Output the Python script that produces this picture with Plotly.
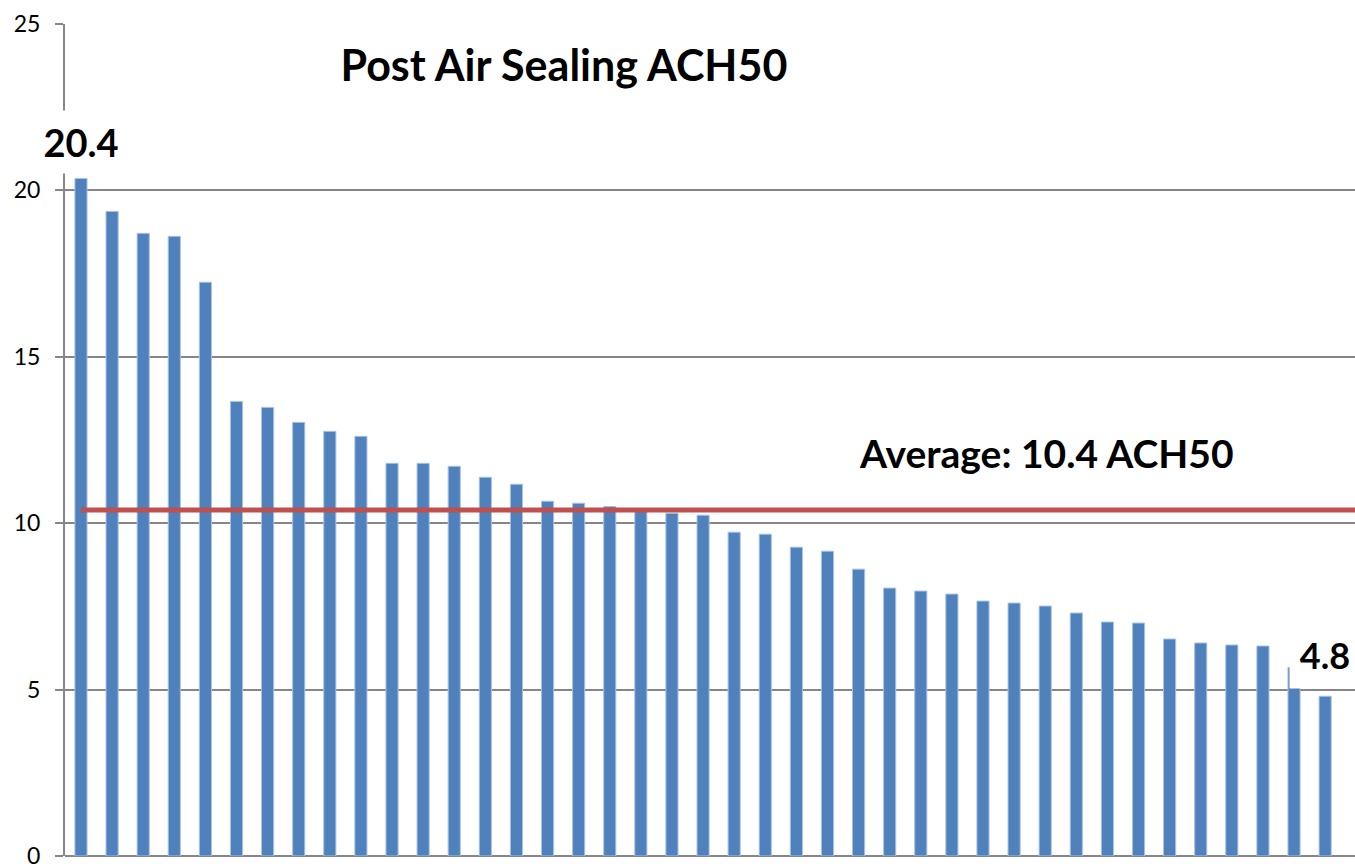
import plotly.graph_objects as go

# ── values (ACH50 per home, sorted high to low) ─────────────────────────────
homes = list(range(41))
ach50 = [
    20.36, 19.37, 18.71, 18.62, 17.24, 13.66, 13.48, 13.03, 12.76, 12.61,
    11.80, 11.80, 11.71, 11.38, 11.17, 10.66, 10.60, 10.50, 10.40, 10.30,
    10.24, 9.73, 9.67, 9.28, 9.16, 8.62, 8.05, 7.96, 7.87, 7.66,
    7.60, 7.51, 7.30, 7.03, 7.00, 6.52, 6.40, 6.34, 6.31, 5.67,
    4.80,
]
average = 10.4
avg_x = [0, 42]
avg_y = [average, average]

y_ticks = [0, 5, 10, 15, 20, 25]

BAR_BLUE = "#4F81BD"
AVG_RED = "#C0504D"
GRID = "#868686"
FONT = "Lato, 'Open Sans', sans-serif"

fig = go.Figure()

fig.add_trace(go.Bar(
    x=homes,
    y=ach50,
    marker=dict(color=BAR_BLUE, line=dict(color="#A9C2E0", width=1)),
    width=0.39,
    hoverinfo="y",
))

fig.add_trace(go.Scatter(
    x=avg_x,
    y=avg_y,
    mode="lines",
    line=dict(color=AVG_RED, width=5),
    hoverinfo="skip",
))

# labels (white boxes cover what's behind them, as in the original)
fig.add_annotation(
    x=homes[0], y=21.45, text="<b>20.4</b>", showarrow=False,
    font=dict(family=FONT, size=38, color="black"),
    bgcolor="white", width=84, height=62, borderpad=0,
    xanchor="center", yanchor="middle",
)
fig.add_annotation(
    x=homes[-1], y=6.04, text="<b>4.8</b>", showarrow=False,
    font=dict(family=FONT, size=36, color="black"),
    bgcolor="white", width=70, height=66, borderpad=0,
    xanchor="center", yanchor="middle",
)
fig.add_annotation(
    x=31.03, y=12.11, text="<b>Average: 10.4 ACH50</b>", showarrow=False,
    font=dict(family=FONT, size=39, color="black"),
    xanchor="center", yanchor="middle",
)

fig.update_layout(
    width=1355,
    height=864,
    title=dict(
        text="<b>Post Air Sealing ACH50</b>",
        font=dict(family=FONT, size=43, color="black"),
        xref="paper", x=0.3868, xanchor="center",
        yref="container", y=1 - 66 / 864, yanchor="middle",
    ),
    font=dict(family=FONT, color="black"),
    paper_bgcolor="white",
    plot_bgcolor="white",
    showlegend=False,
    bargap=0.6,
    margin=dict(l=65, r=0, t=24, b=8),
    xaxis=dict(
        range=[-0.514, 40.96],
        showticklabels=False,
        showgrid=False,
        zeroline=False,
        showline=False,
        ticks="",
        automargin=False,
    ),
    yaxis=dict(
        range=[0, 25],
        tickvals=y_ticks,
        tickfont=dict(family=FONT, size=23, color="black"),
        ticklabeloverflow="allow",
        automargin=False,
        showgrid=True,
        gridcolor=GRID,
        gridwidth=1.5,
        zeroline=True,
        zerolinecolor=GRID,
        zerolinewidth=1.5,
        showline=True,
        linecolor=GRID,
        linewidth=2,
        ticks="outside",
        ticklen=8,
        tickcolor=GRID,
        tickwidth=1.5,
        ticklabelstandoff=10,
    ),
)

# drop the default 8px body margin so the figure fills the window exactly
fig.write_html(
    "out.html",
    config={"displayModeBar": False},
    post_script="document.body.style.margin='0';",
)
